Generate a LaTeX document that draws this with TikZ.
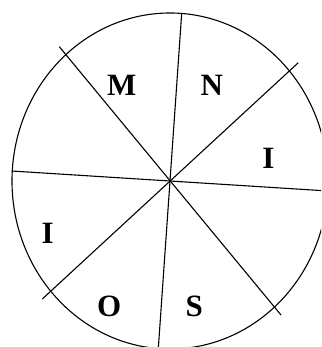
\documentclass[tikz,border=0pt]{standalone}
\usepackage{fontspec}
\setmainfont{Liberation Serif}

\begin{document}
\begin{tikzpicture}[x=1pt, y=-1pt, every node/.style={font=\fontsize{31}{31}\selectfont\bfseries}, spoke/.style={line width=1.1pt}]
	\useasboundingbox (0,0) rectangle (321,347);
	\clip (0,0) rectangle (321,347);
	\coordinate (c) at (170,181);
	\draw[spoke] (c) ellipse [x radius=158pt, y radius=168pt];
	% spokes through the centre
	\coordinate (n) at (181.7,13.3); \coordinate (s) at (158.2,350);
	\coordinate (w) at (11.7,171); \coordinate (e) at (325,190.8);
	\coordinate (nw) at (59.3,46.7); \coordinate (se) at (281,315);
	\coordinate (ne) at (298.3,62.7); \coordinate (sw) at (42.3,299);
	\draw[spoke] (n) -- (s);
	\draw[spoke] (w) -- (e);
	\draw[spoke] (nw) -- (se);
	\draw[spoke] (ne) -- (sw);
	% letters
	\node (m) at (121.7,85) {M};
	\node (nn) at (211.7,85) {N};
	\node (ir) at (268.3,158.3) {I};
	\node (il) at (47.7,233.3) {I};
	\node (o) at (109.3,306.7) {O};
	\node (ss) at (194.3,306) {S};
\end{tikzpicture}
\end{document}
